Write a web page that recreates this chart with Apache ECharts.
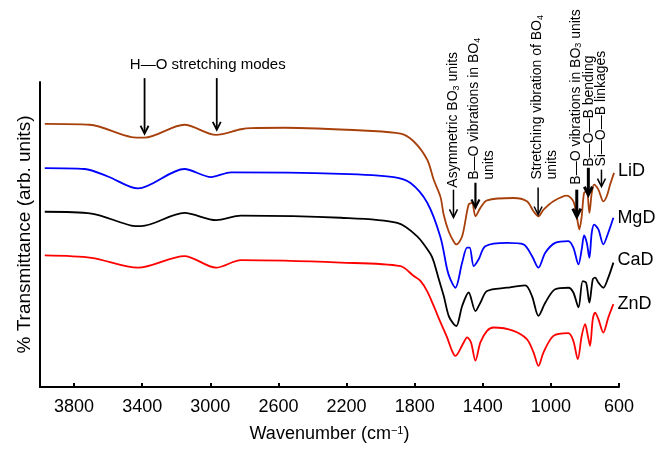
<!DOCTYPE html>
<html>
<head>
<meta charset="utf-8">
<script src="https://cdn.jsdelivr.net/npm/echarts@6/dist/echarts.min.js"></script>
<style>
html,body{margin:0;padding:0;background:#fff;}
#chart{width:657px;height:449px;}
</style>
</head>
<body>
<div id="chart"></div>
<script>
// ---- Data (wavenumber cm^-1, transmittance arb. units) ----
const seriesNames = ['LiD', 'MgD', 'CaD', 'ZnD'];
const seriesColors = ['#A8400C', '#0000FF', '#000000', '#FF0000'];

const lidData = [[3972,88.0],[3708,87.7],[3464,83.6],[3386,83.4],[3152,87.7],[2966,84.3],[2820,86.2],[2761,86.6],[2566,86.7],[2078,85.7],[1883,84.7],[1805,82.1],[1726,76.0],[1688,69.3],[1648,63.5],[1629,57.5],[1600,52.0],[1570,48.6],[1555,47.7],[1521,50.4],[1483,61.0],[1463,61.6],[1443,57.1],[1414,59.9],[1375,62.4],[1219,63.2],[1141,62.1],[1102,58.8],[1073,57.1],[1043,59.3],[985,62.1],[906,64.0],[868,62.1],[848,57.1],[833,52.7],[819,57.1],[805,64.9],[789,65.4],[774,58.2],[760,64.9],[746,67.7],[721,66.0],[692,62.1],[672,63.8],[652,67.7],[629,71.6]];

const mgdData = [[3972,73.2],[3738,72.9],[3601,70.4],[3425,66.4],[3152,72.9],[2996,70.2],[2878,71.8],[2234,71.3],[1922,70.2],[1824,68.2],[1726,61.6],[1648,50.0],[1609,39.3],[1590,36.0],[1561,33.2],[1521,41.6],[1492,46.6],[1477,46.6],[1453,40.4],[1424,42.7],[1385,47.1],[1258,48.2],[1161,47.7],[1111,43.8],[1073,39.9],[1033,44.9],[975,48.2],[897,48.8],[868,46.6],[838,41.0],[819,46.0],[805,50.7],[789,48.2],[774,43.2],[760,51.6],[746,54.3],[721,52.7],[692,47.7],[663,51.6],[633,56.6]];

const cadData = [[3972,58.6],[3698,58.0],[3464,54.0],[3406,53.8],[3152,58.2],[2966,55.8],[2820,57.3],[2234,56.6],[1902,54.9],[1785,50.4],[1707,44.5],[1688,42.0],[1658,36.0],[1629,30.4],[1600,23.8],[1570,21.0],[1555,20.4],[1521,27.1],[1483,31.6],[1443,25.4],[1414,28.2],[1375,32.1],[1258,33.2],[1151,34.0],[1111,30.4],[1073,23.8],[1033,28.2],[975,32.7],[897,33.2],[868,31.6],[838,26.6],[813,35.4],[793,34.9],[774,28.2],[754,36.0],[740,36.6],[721,34.9],[692,33.2],[663,36.6],[633,41.6]];

const zndData = [[3972,44.0],[3698,43.2],[3425,39.9],[3152,43.8],[2966,39.9],[2820,42.4],[2234,41.6],[1883,40.4],[1805,37.1],[1766,35.5],[1726,32.0],[1688,27.1],[1648,21.6],[1609,16.5],[1580,12.0],[1561,10.4],[1512,14.9],[1492,16.6],[1469,14.9],[1443,8.8],[1414,14.9],[1375,18.8],[1336,19.9],[1219,18.8],[1141,16.0],[1102,11.6],[1073,7.1],[1043,11.6],[985,17.1],[897,18.0],[868,15.4],[842,9.3],[819,17.1],[799,21.0],[783,17.1],[770,13.8],[754,22.7],[740,24.9],[721,22.7],[692,18.2],[663,23.2],[633,27.7]];

const allData = [lidData, mgdData, cadData, zndData];

// x-axis tick labels are generated by the value axis (600..3800 step 400)
const xMin = 600, xMax = 4000, xStep = 400;

// Band annotations (arrow tip / tail in data units)
const annoText = ['Asymmetric BO{s|3} units', 'B—O vibrations in BO{s|4}\nunits', 'Stretching vibration of BO{s|4}\nunits', 'B—O vibrations in BO{s|3} units', 'B—O—B bending', 'Si—O—B linkages'];
const annoWn   = [1572, 1443, 1075, 848, 780, 703];
const annoTip  = [56.7, 60.0, 57.7, 57.0, 64.3, 67.0];
const annoTail = [66.0, 68.3, 66.7, 66.0, 73.3, 72.7];

// H—O stretching annotation
const hoText = 'H—O stretching modes';
const hoWn   = [3386, 2962];
const hoTip  = [84.7, 86.0];
const hoTail = [103.3, 103.3];
const hoTextPos = [3015, 107.7];

// ---- Styles ----
const FONT = '"Liberation Sans", Arial, Helvetica, sans-serif';
const annoWidth = [1.5, 2.2, 1.5, 3, 3, 1.5];
const annoTextGap = [2, 3, 8, 5, 1, 3];
const annoTextDx = [0, -1, -1, -1, 1, 0];
const labelDy = [-2, 0, -3, 0];

const chart = echarts.init(document.getElementById('chart'), null, {renderer: 'canvas'});

function arrow(x, yTail, yTip, w) {
  return [
    {type: 'line', shape: {x1: x, y1: yTail, x2: x, y2: yTip - 1}, style: {stroke: '#000', lineWidth: w}},
    {type: 'polyline', shape: {points: [[x - 4, yTip - 8], [x, yTip], [x + 4, yTip - 8]]}, style: {stroke: '#000', lineWidth: w, fill: null}}
  ];
}

function renderAnno(params, api) {
  const i = api.value(3);
  const tip = api.coord([api.value(0), api.value(1)]);
  const tail = api.coord([api.value(0), api.value(2)]);
  const children = arrow(tip[0], tail[1], tip[1], annoWidth[i]);
  const lines = annoText[i].split('\n');
  lines.forEach(function (t, k) {
    children.push({
      type: 'text',
      x: tip[0] + annoTextDx[i] + k * 15,
      y: tail[1] - annoTextGap[i],
      rotation: Math.PI / 2,
      style: {
        text: t, fontSize: 14, fontFamily: FONT, fill: '#000',
        align: 'left', verticalAlign: 'middle',
        rich: {s: {fontSize: 9, fontFamily: FONT, fill: '#000', verticalAlign: 'bottom', padding: [6, 0, 0, 0]}}
      }
    });
  });
  return {type: 'group', children: children};
}

function renderHO(params, api) {
  const idx = api.value(3);
  if (idx < 0) {
    const p = api.coord([api.value(0), api.value(1)]);
    return {type: 'text', x: p[0], y: p[1], style: {text: hoText, fontSize: 15, fontFamily: FONT, fill: '#000', align: 'center', verticalAlign: 'middle'}};
  }
  const tip = api.coord([api.value(0), api.value(1)]);
  const tail = api.coord([api.value(0), api.value(2)]);
  return {type: 'group', children: arrow(tip[0], tail[1], tip[1], 1.8)};
}

const lineSeries = seriesNames.map(function (name, i) {
  const d = allData[i];
  const last = d[d.length - 1];
  return {
    name: name,
    type: 'line',
    data: d,
    showSymbol: false,
    symbol: 'none',
    smooth: 0.3,
    lineStyle: {color: seriesColors[i], width: 1.8},
    itemStyle: {color: seriesColors[i]},
    z: 2,
    markPoint: {
      symbol: 'circle', symbolSize: 0, silent: true,
      data: [{coord: last}],
      label: {show: true, position: 'right', distance: 4, offset: [0, labelDy[i]], formatter: name, fontSize: 18, fontFamily: FONT, color: '#000'}
    }
  };
});

const annoData = annoWn.map(function (w, i) { return [w, annoTip[i], annoTail[i], i]; });
const hoData = hoWn.map(function (w, i) { return [w, hoTip[i], hoTail[i], i]; }).concat([[hoTextPos[0], hoTextPos[1], hoTextPos[1], -1]]);

chart.setOption({
  animation: false,
  backgroundColor: '#fff',
  grid: {left: 40, right: 38, top: 82, bottom: 62, containLabel: false},
  xAxis: {
    type: 'value', inverse: true, min: xMin, max: xMax, interval: xStep,
    name: 'Wavenumber (cm{sup|−1})', nameLocation: 'middle', nameGap: 38,
    nameTextStyle: {fontSize: 18, fontFamily: FONT, color: '#000', rich: {sup: {fontSize: 11, fontFamily: FONT, color: '#000', verticalAlign: 'top', padding: [0, 0, 8, 0]}}},
    axisLine: {show: true, onZero: false, lineStyle: {color: '#000', width: 2}},
    axisTick: {show: true, inside: true, length: 4, lineStyle: {color: '#000', width: 2}},
    axisLabel: {show: true, margin: 11, fontSize: 18, fontFamily: FONT, color: '#000', showMaxLabel: false, showMinLabel: true,
      formatter: function (v) { return String(v); }},
    splitLine: {show: false}
  },
  yAxis: {
    type: 'value', min: 0, max: 102,
    name: '% Transmittance (arb. units)', nameLocation: 'middle', nameGap: 6, nameRotate: 90,
    nameTextStyle: {fontSize: 19, fontFamily: FONT, color: '#000'},
    axisLine: {show: true, onZero: false, lineStyle: {color: '#000', width: 2}},
    axisTick: {show: false},
    axisLabel: {show: false},
    splitLine: {show: false}
  },
  series: lineSeries.concat([
    {type: 'custom', name: 'bands', renderItem: renderAnno, data: annoData, encode: {x: 0, y: 1}, clip: false, silent: true, z: 5},
    {type: 'custom', name: 'ho', renderItem: renderHO, data: hoData, encode: {x: 0, y: 1}, clip: false, silent: true, z: 5}
  ])
});
</script>
</body>
</html>
